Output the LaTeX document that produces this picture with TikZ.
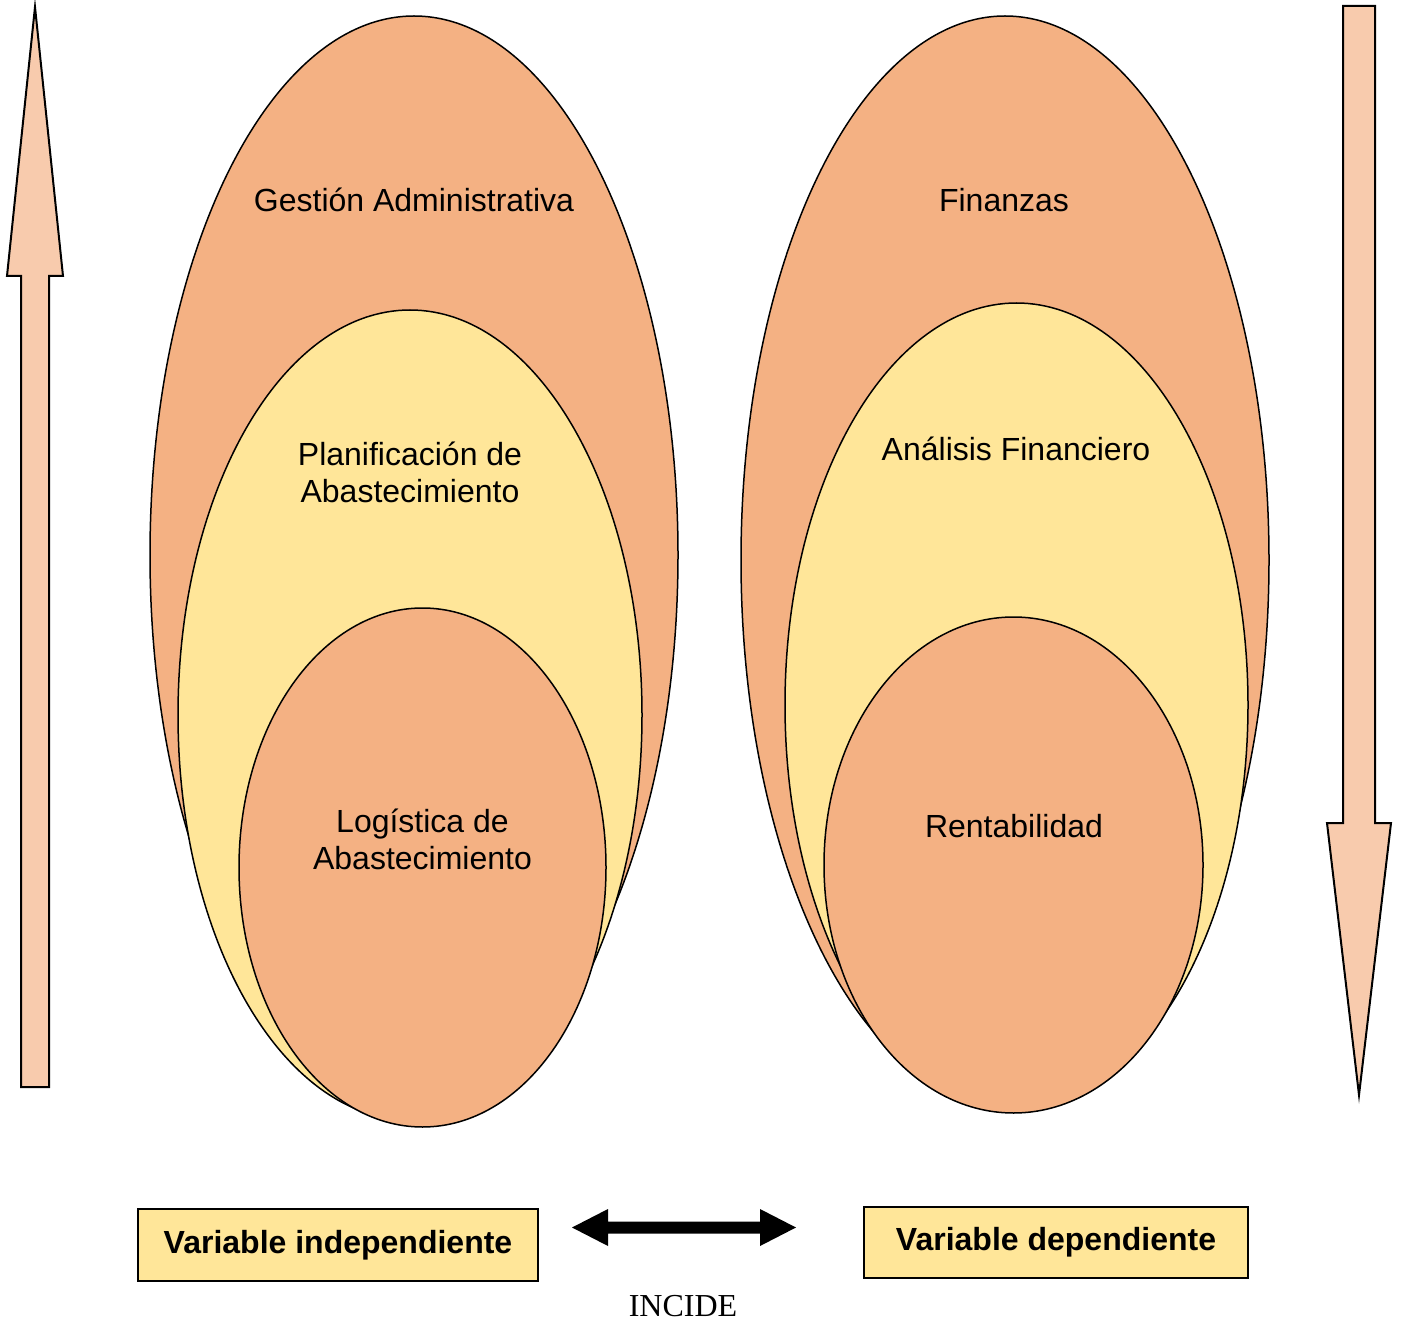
\documentclass[tikz,border=0pt]{standalone}
\usepackage{fontspec}
\setmainfont{Liberation Serif}
\newfontfamily\arialfont{Liberation Sans}
\definecolor{salmon}{HTML}{F4B183}
\definecolor{paleyellow}{HTML}{FFE699}
\definecolor{peach}{HTML}{F8CBAD}
\tikzset{
  oval/.style={draw=black, line width=1.5pt},
  arrowshape/.style={draw=black, fill=peach, line width=2pt, line join=miter},
  ovaltext/.style={font=\arialfont\fontsize{32}{37}\selectfont, inner sep=0pt, anchor=base},
  varbox/.style={draw=black, fill=paleyellow, line width=2pt, inner sep=0pt,
    font=\arialfont\bfseries\fontsize{32}{37}\selectfont},
}
\begin{document}
\begin{tikzpicture}[x=1pt, y=-1pt]
\useasboundingbox (0,0) rectangle (1403,1321);

% vertical direction arrows
\filldraw[arrowshape] (21,1087) -- (21,276) -- (7,276) -- (35,7) -- (63,276)
  -- (49,276) -- (49,1087) -- cycle;
\filldraw[arrowshape] (1343,6) -- (1375,6) -- (1375,823) -- (1391,823)
  -- (1359,1095) -- (1327,823) -- (1343,823) -- cycle;

% independent variable: nested ellipses
\filldraw[oval, fill=salmon] (414,555) ellipse [x radius=264, y radius=539];
\filldraw[oval, fill=paleyellow] (410,715) ellipse [x radius=232, y radius=405];
\filldraw[oval, fill=salmon] (422.5,867.5) ellipse [x radius=183.5, y radius=259.5];

% dependent variable: nested ellipses
\filldraw[oval, fill=salmon] (1005,560) ellipse [x radius=264, y radius=544];
\filldraw[oval, fill=paleyellow] (1016.5,705) ellipse [x radius=231.5, y radius=402];
\filldraw[oval, fill=salmon] (1013.5,865) ellipse [x radius=189.5, y radius=248];

% ellipse labels
\node[ovaltext] (gest) at (414,211.5) {Gestión Administrativa};
\node[ovaltext] (plan1) at (410,465.5) {Planificación de};
\node[ovaltext] (plan2) at (410,502.5) {Abastecimiento};
\node[ovaltext] (log1) at (422.5,832.5) {Logística de};
\node[ovaltext] (log2) at (422.5,869.5) {Abastecimiento};
\node[ovaltext] (fin) at (1004,211.5) {Finanzas};
\node[ovaltext] (anal) at (1016,460.5) {Análisis Financiero};
\node[ovaltext] (rent) at (1014,837.5) {Rentabilidad};

% variable boxes
\node[varbox, minimum width=400pt, minimum height=72pt] (indep) at (338,1245)
  {Variable independiente};
\node[varbox, minimum width=384pt, minimum height=71pt] (dep) at (1056,1242.5)
  {Variable dependiente};

% double-headed arrow between the boxes
\fill[black] (572,1227.5) -- (608,1209) -- (608,1221.5) -- (760,1221.5)
  -- (760,1209) -- (796,1227.5) -- (760,1246) -- (760,1233.5)
  -- (608,1233.5) -- (608,1246) -- cycle;
\node[font=\fontsize{32}{37}\selectfont, inner sep=0pt, anchor=base] (incide)
  at (683,1316.5) {INCIDE};
\end{tikzpicture}
\end{document}
